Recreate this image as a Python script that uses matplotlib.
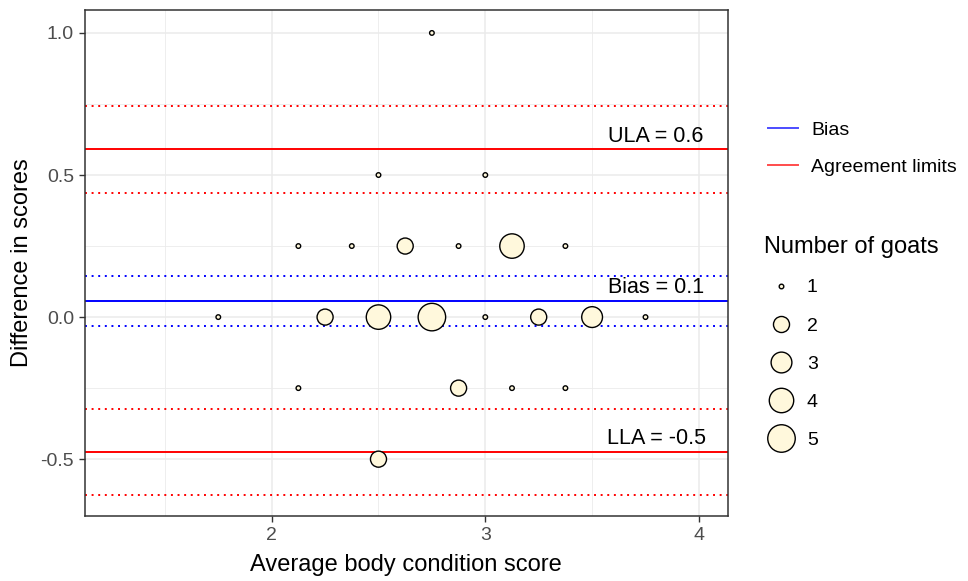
import numpy as np
import matplotlib
matplotlib.use("Agg")
import matplotlib.pyplot as plt
from matplotlib.lines import Line2D

plt.rcParams["font.family"] = ["Liberation Sans", "DejaVu Sans"]

# average score of the two raters, difference between them, goats at that point
avg_score = [2.75, 2.5, 3.0,
             2.125, 2.375, 2.625, 2.875, 3.125, 3.375,
             1.75, 2.25, 2.5, 2.75, 3.0, 3.25, 3.5, 3.75,
             2.125, 2.875, 3.125, 3.375,
             2.5]
diff_score = [1.0, 0.5, 0.5,
              0.25, 0.25, 0.25, 0.25, 0.25, 0.25,
              0.0, 0.0, 0.0, 0.0, 0.0, 0.0, 0.0, 0.0,
              -0.25, -0.25, -0.25, -0.25,
              -0.5]
n_goats = [1, 1, 1,
           1, 1, 2, 1, 4, 1,
           1, 2, 4, 5, 1, 2, 3, 1,
           1, 2, 1, 1,
           2]
size_levels = [1, 2, 3, 4, 5]

FILL = "#FFF8DC"


def marker_diam(n):
    # area scale like ggplot's scale_size, diameter in points
    frac = (np.asarray(n, dtype=float) - 1) / 4
    return 3.3 * (1 + 5 * np.sqrt(frac))


# Bland-Altman statistics from the individual goats
d = np.repeat(diff_score, n_goats)
N = len(d)
bias = d.mean()
sd = d.std(ddof=1)
ula = bias + 1.96 * sd
lla = bias - 1.96 * sd
t = 2.024
ci_bias = t * sd / np.sqrt(N)
ci_loa = t * sd * np.sqrt(3 / N)

fig = plt.figure(figsize=(9.68, 5.81), dpi=100)
ax = fig.add_axes([0.0878, 0.1119, 0.664, 0.871])

ax.set_xlim(1.126, 4.135)
ax.set_ylim(-0.70, 1.081)
ax.set_xticks([2, 3, 4])
ax.set_yticks([-0.5, 0.0, 0.5, 1.0])
ax.set_yticklabels(["-0.5", "0.0", "0.5", "1.0"])
ax.set_xticks([1.5, 2.5, 3.5], minor=True)
ax.set_yticks([-0.25, 0.25, 0.75], minor=True)
ax.grid(which="major", color="#EBEBEB", lw=1.1, zorder=0)
ax.grid(which="minor", color="#EBEBEB", lw=0.6, zorder=0)
ax.tick_params(which="major", length=4.5, width=1, color="#333333",
               labelsize=14, labelcolor="#4D4D4D", pad=3.5)
ax.tick_params(which="minor", length=0)
for s in ax.spines.values():
    s.set_color("#333333")
    s.set_linewidth(1.1)

dots = (0, (1, 2.4))
ax.axhline(bias, color="#0000FF", lw=1.4, zorder=2)
ax.axhline(bias + ci_bias, color="#0000FF", lw=1.4, ls=dots, zorder=2)
ax.axhline(bias - ci_bias, color="#0000FF", lw=1.4, ls=dots, zorder=2)
for lim in (ula, lla):
    ax.axhline(lim, color="#FF0000", lw=1.4, zorder=2)
    ax.axhline(lim + ci_loa, color="#FF0000", lw=1.4, ls=dots, zorder=2)
    ax.axhline(lim - ci_loa, color="#FF0000", lw=1.4, ls=dots, zorder=2)

ax.scatter(avg_score, diff_score, s=marker_diam(n_goats) ** 2, c=FILL,
           edgecolors="black", linewidths=1.0, zorder=3)

for val, name in ((ula, "ULA"), (bias, "Bias"), (lla, "LLA")):
    ax.annotate(f"{name} = {val:.1f}", (3.8, val), xytext=(0, 2),
                textcoords="offset points", ha="center", va="bottom",
                fontsize=15.5, color="black", zorder=4)

ax.set_xlabel("Average body condition score", fontsize=17, labelpad=7)
ax.set_ylabel("Difference in scores", fontsize=17, labelpad=5)

# line legend
line_handles = [Line2D([], [], color="#0000FF", lw=1.4, alpha=0.7),
                Line2D([], [], color="#FF0000", lw=1.4, alpha=0.7)]
leg1 = fig.legend(line_handles, ["Bias", "Agreement limits"],
                  loc="upper left", bbox_to_anchor=(0.7931, 0.791),
                  frameon=False, fontsize=14, handlelength=1.55,
                  handletextpad=0.7, labelspacing=1.0, borderpad=0,
                  borderaxespad=0)

# size legend
size_handles = [Line2D([], [], ls="none", marker="o", markersize=marker_diam(k),
                       markerfacecolor=FILL, markeredgecolor="black",
                       markeredgewidth=1.0) for k in size_levels]
leg2 = fig.legend(size_handles, [str(k) for k in size_levels],
                  title="Number of goats", title_fontsize=17,
                  loc="upper left", bbox_to_anchor=(0.789, 0.593),
                  frameon=False, fontsize=14, handlelength=1.75,
                  handletextpad=0.47, labelspacing=1.05, borderpad=0,
                  borderaxespad=0, alignment="left")

fig.savefig("out.png", dpi=100)
